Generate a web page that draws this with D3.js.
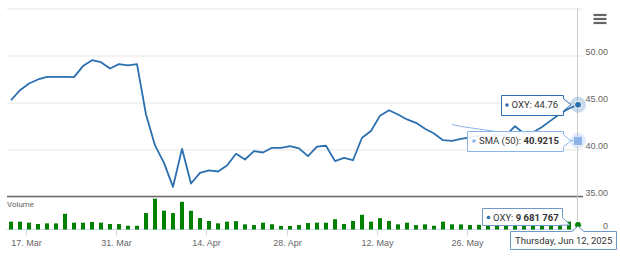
<!DOCTYPE html>
<html>
<head>
<meta charset="utf-8">
<script src="https://cdn.jsdelivr.net/npm/d3@7"></script>
<style>
  body { margin: 0; background: #fff; }
  svg { display: block; font-family: Roboto, "Liberation Sans", Arial, sans-serif; }
</style>
</head>
<body>
<div id="chart"></div>
<script>
// OXY daily data, 13 Mar - 12 Jun 2025 (trading days only)
const tradingDays = [
  "2025-03-13", "2025-03-14", "2025-03-17", "2025-03-18", "2025-03-19", "2025-03-20", "2025-03-21",
  "2025-03-24", "2025-03-25", "2025-03-26", "2025-03-27", "2025-03-28", "2025-03-31",
  "2025-04-01", "2025-04-02", "2025-04-03", "2025-04-04", "2025-04-07", "2025-04-08", "2025-04-09",
  "2025-04-10", "2025-04-11", "2025-04-14", "2025-04-15", "2025-04-16", "2025-04-17", "2025-04-21",
  "2025-04-22", "2025-04-23", "2025-04-24", "2025-04-25", "2025-04-28", "2025-04-29", "2025-04-30",
  "2025-05-01", "2025-05-02", "2025-05-05", "2025-05-06", "2025-05-07", "2025-05-08", "2025-05-09",
  "2025-05-12", "2025-05-13", "2025-05-14", "2025-05-15", "2025-05-16", "2025-05-19", "2025-05-20",
  "2025-05-21", "2025-05-22", "2025-05-23", "2025-05-27", "2025-05-28", "2025-05-29", "2025-05-30",
  "2025-06-02", "2025-06-03", "2025-06-04", "2025-06-05", "2025-06-06", "2025-06-09", "2025-06-10",
  "2025-06-11", "2025-06-12"
];

const closePrices = [
  45.24, 46.31, 47.02, 47.45, 47.73, 47.73, 47.72, 47.70, 48.87, 49.50,
  49.29, 48.62, 49.08, 48.94, 49.08, 43.72, 40.43, 38.58, 36.03, 40.07,
  36.38, 37.52, 37.77, 37.66, 38.30, 39.54, 38.94, 39.82, 39.68, 40.18,
  40.18, 40.35, 40.12, 39.30, 40.30, 40.40, 38.76, 39.10, 38.86, 41.25,
  41.96, 43.60, 44.18, 43.72, 43.20, 42.84, 42.20, 41.70, 40.99, 40.92,
  41.13, 41.30, 41.45, 41.35, 41.60, 41.50, 42.48, 41.70, 41.80, 42.40,
  43.10, 43.80, 44.36, 44.76
];

const volumes = [
  16500000, 16400000, 14300000, 11500000, 12900000, 12800000, 33000000, 14300000, 14200000, 15800000,
  14300000, 11500000, 11400000, 7900000, 7800000, 34400000, 64500000, 39400000, 34400000, 58000000,
  39300000, 24000000, 17900000, 12900000, 16500000, 17500000, 10800000, 9300000, 14300000, 11000000,
  7500000, 7400000, 9300000, 13500000, 14300000, 14200000, 21500000, 11500000, 17900000, 30800000,
  16500000, 23700000, 17900000, 10800000, 14300000, 9300000, 10800000, 7900000, 16500000, 10800000,
  10700000, 9300000, 9800000, 10500000, 11000000, 10000000, 12000000, 10500000, 9500000, 11000000,
  10000000, 12500000, 16500000, 9681767
];

// SMA (50) begins on the 50th trading day
const smaStart = "2025-05-22";
const sma50 = [
  42.66, 42.45, 42.31, 42.18, 42.03, 41.90, 41.78, 41.66,
  41.52, 41.40, 41.29, 41.17, 41.06, 40.98, 40.9215
];

const priceTicks = [35, 40, 45, 50, 55];
const priceLabelTicks = [35, 40, 45, 50];
const volumeTicks = [0];
const tickDates = ["2025-03-17", "2025-03-31", "2025-04-14", "2025-04-28", "2025-05-12", "2025-05-26"];
const tickLabels = ["17. Mar", "31. Mar", "14. Apr", "28. Apr", "12. May", "26. May"];
const hoverLabel = "Thursday, Jun 12, 2025";

const width = 620, height = 259;
const plotLeft = 7, plotRight = 583;
const lineColor = "#2b6fb1", smaColor = "#8db4ea", volColor = "#008000";

const svg = d3.select("#chart").append("svg")
    .attr("width", width)
    .attr("height", height);

const n = tradingDays.length;
const x = d3.scaleLinear().domain([0, n - 1]).range([11, 578]);
const y = d3.scaleLinear().domain([35, 55]).range([196.5, 8.5]);
const yVol = d3.scaleLinear().domain([0, 66000000]).range([229.5, 198]);

// grid lines
const grid = svg.append("g")
    .attr("transform", `translate(${plotLeft},0)`)
    .call(d3.axisRight(y).tickValues(priceTicks).tickSize(plotRight - plotLeft).tickFormat(""));
grid.select(".domain").remove();
grid.selectAll("line").attr("stroke", "#e6e6e6");

// price labels on the right
const yLabels = svg.append("g")
    .attr("transform", "translate(608,0)")
    .call(d3.axisLeft(y).tickValues(priceLabelTicks).tickSize(0).tickPadding(0).tickFormat(d3.format(".2f")));
yLabels.select(".domain").remove();
yLabels.selectAll("text").attr("dy", -1).attr("fill", "#666").style("font-size", "9px");

const volLabels = svg.append("g")
    .attr("transform", "translate(608,0)")
    .call(d3.axisLeft(yVol).tickValues(volumeTicks).tickSize(0).tickPadding(0));
volLabels.select(".domain").remove();
volLabels.selectAll("text").attr("dy", -1).attr("fill", "#666").style("font-size", "9px");

// x axis, ticks sit a third of a step before the first session on/after each date
const tickPos = tickDates.map(d => tradingDays.findIndex(t => t >= d) - 1 / 3);
const xAxis = svg.append("g")
    .attr("transform", "translate(0,229.5)")
    .call(d3.axisBottom(x).tickValues(tickPos).tickSize(6).tickPadding(4)
        .tickFormat((d, i) => tickLabels[i]));
xAxis.select(".domain").remove();
xAxis.selectAll("line").attr("stroke", "#ccd6eb");
xAxis.selectAll("text").attr("fill", "#666").style("font-size", "9px");

svg.append("line")
    .attr("x1", plotLeft).attr("x2", plotRight)
    .attr("y1", 229.5).attr("y2", 229.5)
    .attr("stroke", "#ccd6eb");

// pane separator
svg.append("line")
    .attr("x1", plotLeft).attr("x2", plotRight)
    .attr("y1", 196.5).attr("y2", 196.5)
    .attr("stroke", "#666").attr("stroke-width", 1.5);

svg.append("text")
    .attr("x", plotLeft).attr("y", 207)
    .attr("fill", "#666").style("font-size", "8px")
    .text("Volume");

// crosshair
svg.append("line")
    .attr("x1", x(n - 1) - 0.5).attr("x2", x(n - 1) - 0.5)
    .attr("y1", 8.5).attr("y2", 229.5)
    .attr("stroke", "#cccccc");

// volume bars
svg.append("g").selectAll("rect")
    .data(volumes)
    .enter()
    .append("rect")
    .attr("x", (d, i) => x(i) - 2)
    .attr("y", d => yVol(d))
    .attr("width", 4)
    .attr("height", d => yVol(0) - yVol(d))
    .attr("fill", volColor);

// SMA
const smaIdx = tradingDays.indexOf(smaStart);
svg.append("path")
    .datum(sma50)
    .attr("fill", "none")
    .attr("stroke", smaColor)
    .attr("stroke-width", 1)
    .attr("d", d3.line().x((d, i) => x(smaIdx + i)).y(d => y(d)));

// price line
svg.append("path")
    .datum(closePrices)
    .attr("fill", "none")
    .attr("stroke", lineColor)
    .attr("stroke-width", 1.8)
    .attr("stroke-linejoin", "round")
    .attr("d", d3.line().x((d, i) => x(i)).y(d => y(d)));

// hover markers
const lastX = x(n - 1);
const lastPrice = closePrices[n - 1];
const lastSma = sma50[sma50.length - 1];
const lastVol = volumes[n - 1];

svg.append("circle").attr("cx", lastX).attr("cy", y(lastPrice)).attr("r", 8)
    .attr("fill", lineColor).attr("fill-opacity", 0.25);
svg.append("circle").attr("cx", lastX).attr("cy", y(lastPrice)).attr("r", 3.5)
    .attr("fill", lineColor).attr("stroke", "#fff").attr("stroke-width", 1);

svg.append("circle").attr("cx", lastX).attr("cy", y(lastSma)).attr("r", 8)
    .attr("fill", smaColor).attr("fill-opacity", 0.25);
svg.append("rect").attr("x", lastX - 4.5).attr("y", y(lastSma) - 4.5).attr("width", 9).attr("height", 9)
    .attr("fill", smaColor).attr("stroke", "#fff").attr("stroke-width", 0.5);

svg.append("circle").attr("cx", lastX).attr("cy", yVol(lastVol)).attr("r", 3.5)
    .attr("fill", volColor).attr("stroke", "#fff").attr("stroke-width", 1);

// tooltips
function calloutRight(x0, y0, w, h, ax, ay) {
    return `M${x0},${y0}H${x0 + w}V${ay - 6}L${ax},${ay}L${x0 + w},${ay + 6}V${y0 + h}H${x0}Z`;
}

function tooltip(path, border, dotX, textX, baseY, name, value, boldValue) {
    svg.append("path").attr("d", path)
        .attr("fill", "#fff").attr("fill-opacity", 0.92)
        .attr("stroke", border).attr("stroke-width", 1);
    svg.append("circle").attr("cx", dotX).attr("cy", baseY - 3.3).attr("r", 1.8).attr("fill", border);
    const t = svg.append("text").attr("x", textX).attr("y", baseY)
        .attr("fill", "#333").style("font-size", "9.5px");
    t.append("tspan").text(name + ": ");
    t.append("tspan").attr("font-weight", boldValue ? "bold" : "normal").text(value);
}

const pY = y(lastPrice);
tooltip(calloutRight(501.5, Math.round(pY) - 9.5, 62, 20, 571, pY),
    lineColor, 507, 511.5, pY + 3.5, "OXY", lastPrice.toFixed(2), false);

const sY = y(lastSma);
tooltip(calloutRight(467.5, Math.round(sY) - 9.5, 96, 20, 571, sY),
    smaColor, 474, 479, sY + 3.5, "SMA (50)", lastSma.toFixed(4), true);

const vBox = { x: 482.5, y: 208.5, w: 80, h: 17 };
svg.append("path")
    .attr("d", `M${vBox.x},${vBox.y}H${vBox.x + vBox.w}V${vBox.y + vBox.h - 8}L${lastX - 8},${yVol(lastVol)}L${vBox.x + vBox.w - 5},${vBox.y + vBox.h}H${vBox.x}Z`)
    .attr("fill", "#fff").attr("fill-opacity", 0.92)
    .attr("stroke", "#6f98c6").attr("stroke-width", 1);
svg.append("circle").attr("cx", 488.5).attr("cy", 217.5).attr("r", 1.8).attr("fill", lineColor);
const vt = svg.append("text").attr("x", 493).attr("y", 220.8)
    .attr("fill", "#333").style("font-size", "9.5px");
vt.append("tspan").text("OXY: ");
vt.append("tspan").attr("font-weight", "bold")
    .text(d3.format(",")(lastVol).replace(/,/g, " "));

// date label under the crosshair
const dBox = { x: 510.5, y: 231.5, w: 106, h: 18 };
svg.append("path")
    .attr("d", `M${dBox.x},${dBox.y}H${lastX - 6}L${lastX},${226}L${lastX + 6},${dBox.y}H${dBox.x + dBox.w}V${dBox.y + dBox.h}H${dBox.x}Z`)
    .attr("fill", "#fff")
    .attr("stroke", "#6f98c6").attr("stroke-width", 1);
svg.append("text").attr("x", 515).attr("y", 243.5)
    .attr("fill", "#333").style("font-size", "9.5px")
    .text(hoverLabel);

// menu button
svg.append("g").selectAll("line")
    .data([15, 19, 23])
    .enter()
    .append("line")
    .attr("x1", 593.5).attr("x2", 606.5)
    .attr("y1", d => d).attr("y2", d => d)
    .attr("stroke", "#666").attr("stroke-width", 2.2);
</script>
</body>
</html>
